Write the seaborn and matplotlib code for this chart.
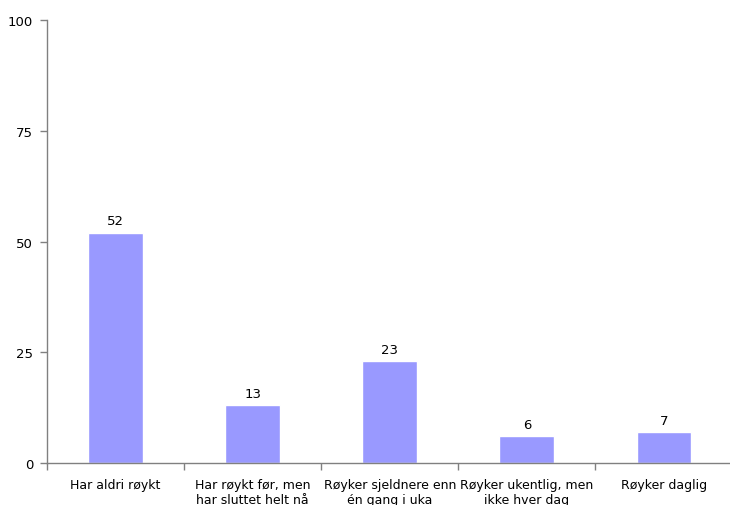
import matplotlib
matplotlib.use("Agg")
import matplotlib.pyplot as plt
import seaborn as sns
import pandas as pd

# values
categories = ["Har aldri røykt", "Har røykt før, men\nhar sluttet helt nå",
              "Røyker sjeldnere enn\nén gang i uka", "Røyker ukentlig, men\nikke hver dag",
              "Røyker daglig"]
values = [52, 13, 23, 6, 7]
y_ticks = [0, 25, 50, 75, 100]

sns.set_style("white")
plt.rcParams['font.family'] = ['DejaVu Sans']

df = pd.DataFrame({"kategori": categories, "prosent": values})

fig = plt.figure(figsize=(7.3, 5.06), dpi=100)
ax = fig.add_axes([0.0644, 0.083, 0.939, 0.8755])

sns.barplot(data=df, x="kategori", y="prosent", color="#9999FF", saturation=1,
            width=0.4, ax=ax)

for i, v in enumerate(values):
    ax.text(i, v + 1.2, str(v), ha="center", va="bottom", fontsize=9.5, color="black")

ax.set_ylim(0, 100)
ax.set_xlim(-0.5, len(categories) - 0.5)
ax.set_yticks(y_ticks)
ax.set_yticklabels([str(t) for t in y_ticks], fontsize=9.5)
ax.set_xlabel("")
ax.set_ylabel("")

# category labels, with ticks on the boundaries between categories
ax.set_xticks([i for i in range(len(categories))])
ax.set_xticklabels(categories, fontsize=9, linespacing=1.15)
ax.tick_params(axis="x", which="major", length=0, pad=11, labelcolor="black")
ax.set_xticks([i - 0.5 for i in range(len(categories) + 1)], minor=True)
ax.tick_params(axis="x", which="minor", bottom=True, length=5, color="#808080",
               width=1, direction="out")
ax.tick_params(axis="y", length=5, color="#808080", width=1, direction="out", left=True,
               pad=5, labelcolor="black")

for s in ["top", "right"]:
    ax.spines[s].set_visible(False)
for s in ["left", "bottom"]:
    ax.spines[s].set_color("#808080")
    ax.spines[s].set_linewidth(1)

fig.savefig("out.png", dpi=100)
